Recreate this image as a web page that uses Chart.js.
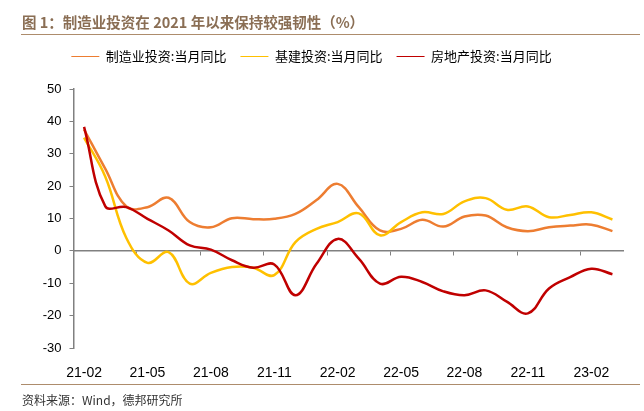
<!DOCTYPE html>
<html lang="zh-CN">
<head>
  <meta charset="UTF-8">
  <title>制造业投资在 2021 年以来保持较强韧性</title>
  <script src="https://cdn.jsdelivr.net/npm/chart.js"></script>
  <style>
    body { margin: 0; background: #fff; }
    .page { position: relative; width: 644px; height: 411px; overflow: hidden; }
    #wrap { position: absolute; left: 0; top: 0; width: 644px; height: 411px; }
    .title {
      position: absolute; left: 22px; top: 12px; z-index: 2;
      font: bold 14.5px "Noto Sans CJK SC", sans-serif; line-height: 19px;
      color: #8a6e54; white-space: nowrap;
    }
    .rule { position: absolute; left: 21px; width: 619px; height: 0; border-top: 1.5px solid #ad8c6c; z-index: 2; }
    .source {
      position: absolute; left: 22px; top: 391px; z-index: 2;
      font: 12px "Noto Sans CJK SC", sans-serif; line-height: 18px; color: #333; white-space: nowrap;
    }
  </style>
</head>
<body>
<div class="page">
  <div class="title">图 1：制造业投资在 2021 年以来保持较强韧性（%）</div>
  <div class="rule" style="top: 33.5px;"></div>
  <div id="wrap"><canvas id="chart"></canvas></div>
  <div class="rule" style="top: 384px;"></div>
  <div class="source">资料来源：Wind，德邦研究所</div>
</div>

<script>
  // 月份
  const months = ['21-02', '21-03', '21-04', '21-05', '21-06', '21-07', '21-08', '21-09', '21-10',
    '21-11', '21-12', '22-01', '22-02', '22-03', '22-04', '22-05', '22-06', '22-07', '22-08',
    '22-09', '22-10', '22-11', '22-12', '23-01', '23-02', '23-03'];

  // 当月同比 (%)
  const manufacturing = [37.5, 25.4, 13.7, 13.5, 16.4, 8.9, 7.3, 10.1, 9.8, 9.9, 11.4, 15.7, 20.7,
    13.5, 6.3, 6.8, 9.6, 7.5, 10.6, 10.9, 7.3, 6.1, 7.3, 7.8, 8.1, 6.1];
  const infrastructure = [35.0, 23.0, 4.0, -3.7, -0.4, -10.1, -6.8, -5.0, -5.2, -7.5, 2.7, 6.8, 8.9,
    11.6, 4.8, 8.9, 11.9, 11.4, 15.3, 16.3, 12.7, 13.7, 10.4, 11.1, 11.9, 9.7];
  const realEstate = [38.3, 13.8, 13.5, 9.9, 6.3, 1.7, 0.4, -2.9, -5.2, -4.2, -13.7, -4.0, 3.7,
    -2.4, -10.1, -8.0, -9.6, -12.5, -13.7, -12.2, -15.7, -19.3, -11.6, -8.1, -5.5, -7.2];

  const yTicks = { min: -30, max: 50, step: 10 };

  Chart.defaults.font.family = "'Liberation Sans', 'Noto Sans CJK SC', sans-serif";
  Chart.defaults.color = '#000';

  const axisGrey = '#808080';

  new Chart(document.getElementById('chart'), {
    type: 'line',
    data: {
      labels: months,
      datasets: [
        { label: '制造业投资:当月同比', data: manufacturing, borderColor: '#ED7D31', backgroundColor: '#ED7D31', order: 3 },
        { label: '基建投资:当月同比', data: infrastructure, borderColor: '#FFC000', backgroundColor: '#FFC000', order: 2 },
        { label: '房地产投资:当月同比', data: realEstate, borderColor: '#C00000', backgroundColor: '#C00000', order: 1 }
      ]
    },
    options: {
      responsive: true,
      maintainAspectRatio: false,
      animation: false,
      layout: { padding: { left: 0, right: 21, top: 36, bottom: 33 } },
      elements: {
        line: { borderWidth: 2.5, tension: 0.4, fill: false },
        point: { radius: 0 }
      },
      plugins: {
        tooltip: { enabled: false },
        legend: {
          labels: {
            usePointStyle: true,
            pointStyle: 'line',
            pointStyleWidth: 28,
            padding: 14,
            color: '#000',
            font: { family: "'Noto Sans CJK SC', sans-serif", size: 13 },
            sort: (a, b) => a.datasetIndex - b.datasetIndex
          }
        }
      },
      scales: {
        x: {
          type: 'category',
          position: 'bottom',
          offset: true,
          grid: { display: false },
          border: { display: false },
          ticks: {
            autoSkip: false,
            maxRotation: 0,
            padding: 9,
            font: { size: 14 },
            callback: function (v, i) { return i % 3 === 0 ? this.getLabelForValue(v) : ''; }
          },
          afterFit: s => { s.height = 30; }
        },
        // 图例与绘图区之间留白
        xTop: {
          type: 'category',
          position: 'top',
          grid: { display: false },
          border: { display: false },
          ticks: { display: false },
          afterFit: s => { s.height = 16; }
        },
        // 零轴：带刻度线
        x0: {
          type: 'category',
          position: { y: 0 },
          offset: true,
          grid: {
            offset: true,
            drawOnChartArea: false,
            tickLength: 4,
            lineWidth: 1,
            color: c => (c.index % 3 === 0 ? axisGrey : 'rgba(0,0,0,0)')
          },
          border: { color: axisGrey, width: 1.5 },
          ticks: { display: false }
        },
        y: {
          min: yTicks.min,
          max: yTicks.max,
          ticks: { stepSize: yTicks.step, padding: 8, font: { size: 13 } },
          grid: { drawOnChartArea: false, tickLength: 4, color: axisGrey },
          border: { color: axisGrey, width: 1.5 },
          afterFit: s => { s.width = 73.5; }
        }
      }
    }
  });
</script>
</body>
</html>
